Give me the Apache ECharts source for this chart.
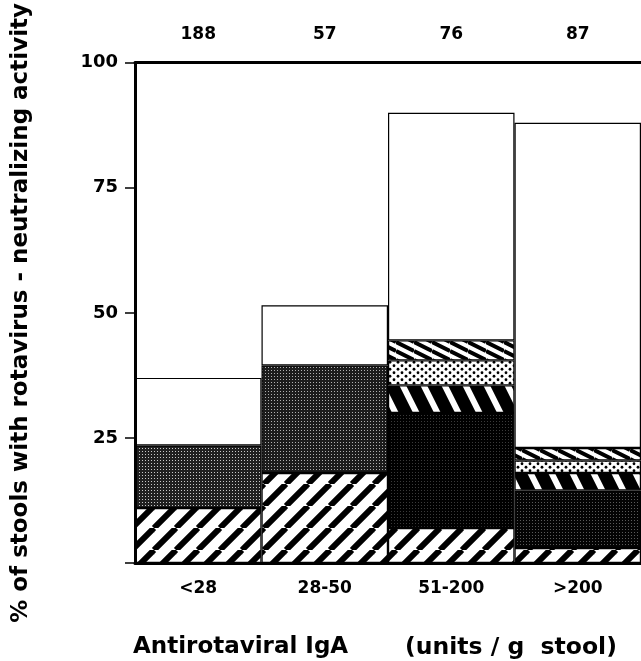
<!DOCTYPE html>
<html>
<head>
<meta charset="utf-8">
<script src="https://cdn.jsdelivr.net/npm/echarts@6/dist/echarts.min.js"></script>
<style>html,body{margin:0;padding:0;background:#fff}#c{width:641px;height:661px}</style>
</head>
<body>
<div id="c"></div>
<script>
// ---- data ----
const categories = ['<28', '28-50', '51-200', '>200'];
const counts = ['188', '57', '76', '87'];
const hatchVals = [11, 18, 7, 3];
const stippleVals = [12.5, 21.5, 23, 11.5];
const thickStripeVals = [null, null, 5.5, 3.5];
const dotVals = [null, null, 5, 2.5];
const thinHatchVals = [null, null, 4, 2.5];
const whiteVals = [13.5, 12, 45.5, 65];
const yTicks = [0, 25, 50, 75, 100];

// ---- patterns ----
function makeCanvas(w, h, draw) {
  const c = document.createElement('canvas');
  c.width = w; c.height = h;
  draw(c.getContext('2d'), w, h);
  return c;
}
const hatchPat = makeCanvas(22, 22, (ctx, w, h) => {
  ctx.fillStyle = '#fff'; ctx.fillRect(0, 0, w, h);
  ctx.strokeStyle = '#000'; ctx.lineWidth = 6;
  for (let k = -1; k <= 1; k++) { ctx.beginPath(); ctx.moveTo(k * w, h); ctx.lineTo(k * w + w, 0); ctx.stroke(); }
});
const thickPat = makeCanvas(21, 42, (ctx, w, h) => {
  ctx.fillStyle = '#000'; ctx.fillRect(0, 0, w, h);
  ctx.strokeStyle = '#fff'; ctx.lineWidth = 6;
  for (let k = -1; k <= 1; k++) { ctx.beginPath(); ctx.moveTo(k * w, 0); ctx.lineTo(k * w + w, h); ctx.stroke(); }
});
const thinPat = makeCanvas(18, 9, (ctx, w, h) => {
  ctx.fillStyle = '#fff'; ctx.fillRect(0, 0, w, h);
  ctx.strokeStyle = '#000'; ctx.lineWidth = 4;
  for (let j = -1; j <= 1; j++) { ctx.beginPath(); ctx.moveTo(0, j * h); ctx.lineTo(w, j * h + h); ctx.stroke(); }
});
const dotPat = makeCanvas(8, 7, (ctx, w, h) => {
  ctx.fillStyle = '#fff'; ctx.fillRect(0, 0, w, h);
  ctx.fillStyle = '#000';
  [[2, 1.75], [6, 5.25]].forEach(p => { ctx.beginPath(); ctx.arc(p[0], p[1], 1.4, 0, Math.PI * 2); ctx.fill(); });
});
function stipple(bg, dot) {
  return makeCanvas(3, 3, (ctx, w, h) => {
    ctx.fillStyle = bg; ctx.fillRect(0, 0, w, h);
    ctx.fillStyle = dot; ctx.fillRect(1, 1, 1, 1);
  });
}
const stipplePats = [stipple('#202020', '#c8c8c8'), stipple('#1c1c1c', '#b0b0b0'), stipple('#000', '#3a3a3a'), stipple('#040404', '#5a5a5a')];

const FONT = 'DejaVu Sans';
const border = { borderColor: '#000', borderWidth: 1.2 };
function pat(img) { return { image: img, repeat: 'repeat' }; }

function barSeries(name, vals, color, perItem) {
  return {
    name, type: 'bar', stack: 'all', barCategoryGap: '0%',
    data: vals.map((v, i) => perItem ? { value: v, itemStyle: { color: pat(perItem[i]) } } : v),
    itemStyle: Object.assign({ color }, border),
    emphasis: { disabled: true }, silent: true
  };
}

const chart = echarts.init(document.getElementById('c'), null, { renderer: 'canvas' });
chart.setOption({
  animation: false,
  grid: { left: 135, right: 0, top: 60, bottom: 98 },
  xAxis: [
    { type: 'category', data: categories, position: 'bottom', z: 10,
      axisLine: { lineStyle: { color: '#000', width: 3 } }, axisTick: { show: false },
      axisLabel: { color: '#000', fontFamily: FONT, fontWeight: 'bold', fontSize: 17, margin: 17 } },
    { type: 'category', data: counts, position: 'top', z: 10,
      axisLine: { show: true, lineStyle: { color: '#000', width: 3 } }, axisTick: { show: false },
      axisLabel: { color: '#000', fontFamily: FONT, fontWeight: 'bold', fontSize: 17, margin: 20 } }
  ],
  yAxis: {
    type: 'value', min: 0, max: 100, interval: 25, z: 10,
    name: '% of stools with rotavirus - neutralizing activity', nameLocation: 'middle', nameGap: 102,
    nameTextStyle: { color: '#000', fontFamily: FONT, fontWeight: 'bold', fontSize: 23 },
    axisLine: { show: true, lineStyle: { color: '#000', width: 3 } },
    axisTick: { show: true, length: 10, lineStyle: { color: '#000', width: 1.5 } },
    splitLine: { show: false },
    axisLabel: { color: '#000', fontFamily: FONT, fontWeight: 'bold', fontSize: 18, margin: 17,
      formatter: v => (yTicks.indexOf(v) > 0 ? String(v) : '') }
  },
  graphic: [
    { type: 'text', left: 133, top: 636, style: { text: 'Antirotaviral IgA', font: 'bold 23px "DejaVu Sans"', fill: '#000' } },
    { type: 'text', left: 405, top: 636, style: { text: '(units / g  stool)', font: 'bold 23.5px "DejaVu Sans"', fill: '#000' } }
  ],
  series: [
    barSeries('hatch', hatchVals, pat(hatchPat)),
    barSeries('stipple', stippleVals, '#222', stipplePats),
    barSeries('thick', thickStripeVals, pat(thickPat)),
    barSeries('dots', dotVals, pat(dotPat)),
    barSeries('thin', thinHatchVals, pat(thinPat)),
    barSeries('white', whiteVals, '#fff')
  ]
});
</script>
</body>
</html>
